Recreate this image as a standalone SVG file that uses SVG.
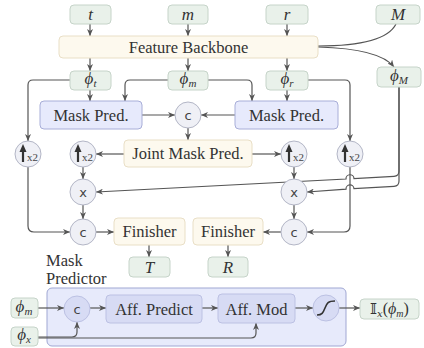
<svg xmlns="http://www.w3.org/2000/svg" width="424" height="348" viewBox="0 0 424 348">
<style>
.g{fill:#e9f1ea;stroke:#c6d4c9;stroke-width:1}
.cr{fill:#fdf9ee;stroke:#e9dfc6;stroke-width:1}
.lv{fill:#e7eafc;stroke:#a8aed8;stroke-width:1}
.ci{fill:#eff0f6;stroke:#b3b6c6;stroke-width:1}
.ib{fill:#d7dbf4;stroke:#bcc1e3;stroke-width:1}
.box{fill:#e7eafb;stroke:#a0a7d3;stroke-width:1}
.t{font-family:"Liberation Serif",serif;font-size:16.5px;fill:#333;text-anchor:middle}
.m{font-family:"Liberation Serif",serif;font-style:italic;font-size:17px;fill:#333;text-anchor:middle}
.s{font-family:"DejaVu Sans",sans-serif;font-size:13px;fill:#444;text-anchor:middle}
.x2{font-family:"Liberation Serif",serif;font-size:11px;fill:#444}
.c{fill:none;stroke:#555;stroke-width:1.2}
.a{fill:none;stroke:#555;stroke-width:1.2;marker-end:url(#ah)}
</style>
<defs>
<marker id="ah" markerUnits="userSpaceOnUse" markerWidth="8" markerHeight="6" refX="7" refY="3" orient="auto">
<path d="M0,0 L7,3 L0,6 L2,3 z" fill="#555"/>
</marker>
<g id="upi">
<line x1="-4" y1="8" x2="-4" y2="-5" stroke="#333" stroke-width="2.2"/>
<path d="M-7.5,-2 L-4,-10 L-0.5,-2 z" fill="#333"/>
<text x="0" y="7" class="x2">x2</text>
</g>
</defs>

<g id="mask_predictor">
<text class="t" x="46" y="266" style="text-anchor:start">Mask</text>
<text class="t" x="46" y="284" style="text-anchor:start">Predictor</text>
<rect class="box" x="47" y="288" width="299" height="58" rx="5"/>
</g>

<g id="connectors">
<path class="a" d="M90,24 V36"/>
<path class="a" d="M188,24 V36"/>
<path class="a" d="M287,24 V36"/>
<path class="c" d="M396,24 C388,40 360,46 318,46"/>
<path class="a" d="M318,47 C355,48 384,54 394,67"/>
<path class="a" d="M90,58 V71"/>
<path class="a" d="M188,58 V71"/>
<path class="a" d="M287,58 V71"/>
<path class="a" d="M90,90 V101"/>
<path class="a" d="M287,90 V101"/>
<path class="a" d="M70,80 H33 Q28,80 28,85 V141"/>
<path class="a" d="M168,80 H130 Q125,80 125,85 V101"/>
<path class="a" d="M207,80 H247 Q252,80 252,85 V101"/>
<path class="a" d="M308,80 H345 Q350,80 350,85 V141"/>
<path class="a" d="M142,115 H175"/>
<path class="a" d="M235,115 H201"/>
<path class="a" d="M188,128 V140"/>
<path class="a" d="M124,154 H96"/>
<path class="a" d="M252,154 H281"/>
<path class="a" d="M83,167 V179"/>
<path class="a" d="M294,167 V179"/>
<path class="a" d="M83,205 V219"/>
<path class="a" d="M294,205 V219"/>
<path class="a" d="M28,167 V226 Q28,232 34,232 H70"/>
<path class="a" d="M350,167 V226 Q350,232 344,232 H307"/>
<path class="a" d="M96,232 H114"/>
<path class="a" d="M281,232 H263"/>
<path class="a" d="M149,245 V257"/>
<path class="a" d="M228,245 V257"/>
<path class="a" d="M399,87 V171 Q399,176 394,176.3 L354,178.5 A4,4 0 0 0 346,179 L96,192"/>
<path class="a" d="M399,87 V181 Q399,186 394,186.3 L354,188.7 A4,4 0 0 0 346,189.2 L307,192"/>
<path class="a" d="M38,308 H64"/>
<path class="a" d="M38,337 H72 Q77,337 77,332 V322"/>
<path class="a" d="M38,338 H251 Q256,338 256,333 V323"/>
<path class="a" d="M90,308 H106"/>
<path class="a" d="M202,308 H218"/>
<path class="a" d="M295,308 H313"/>
<path class="a" d="M339,308 H360"/>
</g>

<g id="n_t"><rect class="g" x="70" y="5" width="41" height="19" rx="4"/><text class="m" x="90.5" y="19.5">t</text></g>
<g id="n_m"><rect class="g" x="168" y="5" width="40" height="19" rx="4"/><text class="m" x="188" y="19.5">m</text></g>
<g id="n_r"><rect class="g" x="266" y="5" width="42" height="19" rx="4"/><text class="m" x="287" y="19.5">r</text></g>
<g id="n_M"><rect class="g" x="376" y="5" width="44" height="19" rx="4"/><text class="m" x="398" y="19.5">M</text></g>

<g id="backbone"><rect class="cr" x="59" y="36" width="259" height="22" rx="4"/><text class="t" x="188.5" y="53">Feature Backbone</text></g>

<g id="phi_t"><rect class="g" x="70" y="71" width="41" height="19" rx="4"/><text class="m" x="90.5" y="84">ϕ<tspan font-size="11" dy="3">t</tspan></text></g>
<g id="phi_m"><rect class="g" x="168" y="71" width="40" height="19" rx="4"/><text class="m" x="188" y="84">ϕ<tspan font-size="11" dy="3">m</tspan></text></g>
<g id="phi_r"><rect class="g" x="266" y="71" width="42" height="19" rx="4"/><text class="m" x="287" y="84">ϕ<tspan font-size="11" dy="3">r</tspan></text></g>
<g id="phi_M"><rect class="g" x="377" y="67" width="44" height="20" rx="4"/><text class="m" x="399" y="80.5">ϕ<tspan font-size="11" dy="3">M</tspan></text></g>

<g id="maskpred_l"><rect class="lv" x="40" y="101" width="102" height="28" rx="4"/><text class="t" x="91" y="120.5">Mask Pred.</text></g>
<g id="maskpred_r"><rect class="lv" x="235" y="101" width="103" height="28" rx="4"/><text class="t" x="286.5" y="120.5">Mask Pred.</text></g>
<g id="concat_top"><circle class="ci" cx="188" cy="115" r="13"/><text class="s" x="188" y="119.5">c</text></g>
<g id="jmp"><rect class="cr" x="124" y="140" width="128" height="27" rx="4"/><text class="t" x="188" y="159">Joint Mask Pred.</text></g>

<g id="up_fl"><circle class="ci" cx="28" cy="154" r="13"/><use href="#upi" x="27" y="154"/></g>
<g id="up_il"><circle class="ci" cx="83" cy="154" r="13"/><use href="#upi" x="82" y="154"/></g>
<g id="up_ir"><circle class="ci" cx="294" cy="154" r="13"/><use href="#upi" x="293" y="154"/></g>
<g id="up_fr"><circle class="ci" cx="350" cy="154" r="13"/><use href="#upi" x="349" y="154"/></g>

<g id="mul_l"><circle class="ci" cx="83" cy="192" r="13"/><text class="s" x="83" y="196.5">x</text></g>
<g id="mul_r"><circle class="ci" cx="294" cy="192" r="13"/><text class="s" x="294" y="196.5">x</text></g>
<g id="cat_l"><circle class="ci" cx="83" cy="232" r="13"/><text class="s" x="83" y="236.5">c</text></g>
<g id="cat_r"><circle class="ci" cx="294" cy="232" r="13"/><text class="s" x="294" y="236.5">c</text></g>

<g id="finisher_l"><rect class="cr" x="114" y="218" width="71" height="27" rx="4"/><text class="t" x="149.5" y="237">Finisher</text></g>
<g id="finisher_r"><rect class="cr" x="193" y="218" width="70" height="27" rx="4"/><text class="t" x="228" y="237">Finisher</text></g>
<g id="out_T"><rect class="g" x="129" y="257" width="41" height="20" rx="4"/><text class="m" x="149.5" y="272.5">T</text></g>
<g id="out_R"><rect class="g" x="208" y="257" width="40" height="20" rx="4"/><text class="m" x="228" y="272.5">R</text></g>

<g id="mp_phi_m"><rect class="g" x="11" y="298" width="27" height="20" rx="4"/><text class="m" x="24" y="311.5">ϕ<tspan font-size="11" dy="3">m</tspan></text></g>
<g id="mp_phi_x"><rect class="g" x="11" y="327" width="27" height="19" rx="4"/><text class="m" x="24" y="340">ϕ<tspan font-size="11" dy="3">x</tspan></text></g>
<g id="mp_cat"><circle class="ib" cx="77" cy="309" r="13"/><text class="s" x="77" y="313.5">c</text></g>
<g id="aff_predict"><rect class="ib" x="106" y="295" width="96" height="28" rx="4"/><text class="t" x="154" y="314.5">Aff. Predict</text></g>
<g id="aff_mod"><rect class="ib" x="218" y="294" width="77" height="29" rx="4"/><text class="t" x="256.5" y="314.5">Aff. Mod</text></g>
<g id="sigmoid"><circle class="ib" cx="326" cy="308" r="13"/><path d="M317,315 C322,315 323,313 325,308 C327,303 328,301 335,301" fill="none" stroke="#333" stroke-width="1.6"/></g>
<g id="mp_out"><rect class="g" x="360" y="299" width="59" height="20" rx="4"/><text x="389.5" y="314" font-family="'DejaVu Serif','DejaVu Sans',serif" font-size="15" fill="#333" text-anchor="middle">𝕀<tspan font-size="10" font-style="italic" dy="3">x</tspan><tspan dy="-3" font-family="'Liberation Serif',serif" font-size="16">(</tspan><tspan font-family="'Liberation Serif',serif" font-style="italic" font-size="16">ϕ</tspan><tspan font-family="'Liberation Serif',serif" font-style="italic" font-size="10" dy="3">m</tspan><tspan font-family="'Liberation Serif',serif" font-size="16" dy="-3">)</tspan></text></g>
</svg>
